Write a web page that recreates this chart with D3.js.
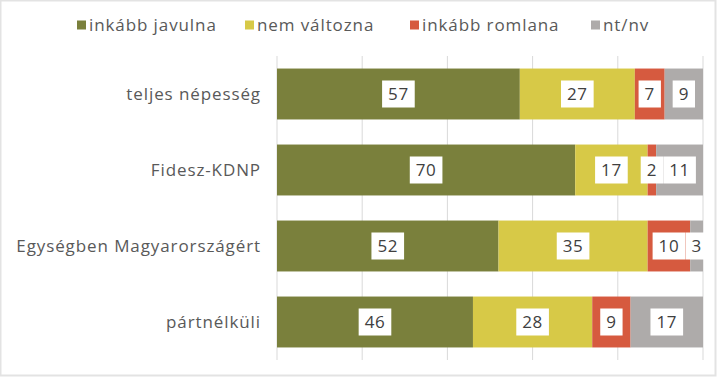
<!DOCTYPE html>
<html>
<head>
<meta charset="utf-8">
<script src="https://cdn.jsdelivr.net/npm/d3@7"></script>
<style>
  body { margin: 0; background: #fff; }
  text { font-family: "Open Sans", sans-serif; }
</style>
</head>
<body>
<div id="chart"></div>
<script>
// categories (top to bottom) and series
const categories = ["teljes népesség", "Fidesz-KDNP", "Egységben Magyarországért", "pártnélküli"];
const seriesNames = ["inkább javulna", "nem változna", "inkább romlana", "nt/nv"];
const javulna = [57, 70, 52, 46];
const valtozna = [27, 17, 35, 28];
const romlana = [7, 2, 10, 9];
const ntnv = [9, 11, 3, 17];
const xTicks = [0, 20, 40, 60, 80, 100];
const colors = ["#7a803c", "#d7c947", "#d65a3f", "#aeabaa"];

const width = 720, height = 378;
const margin = {top: 56, right: 17, bottom: 18, left: 277};

const svg = d3.select("#chart").append("svg")
  .attr("width", width)
  .attr("height", height);

// outer frame
svg.append("rect")
  .attr("x", 0.5).attr("y", 0.5)
  .attr("width", 715).attr("height", 375)
  .attr("fill", "#fff")
  .attr("stroke", "#e3e3e3")
  .attr("stroke-width", 2);

const rows = categories.map((c, i) => ({
  cat: c,
  vals: [javulna[i], valtozna[i], romlana[i], ntnv[i]]
}));

const x = d3.scaleLinear().domain([0, 100]).range([margin.left, width - margin.right]);
const y = d3.scaleBand().domain(categories).range([margin.top, height - margin.bottom]).paddingInner(0.33).paddingOuter(0.165);

// gridlines
svg.append("g")
  .selectAll("line")
  .data(xTicks)
  .join("line")
  .attr("x1", d => x(d)).attr("x2", d => x(d))
  .attr("y1", margin.top).attr("y2", height - margin.bottom)
  .attr("stroke", "#d9d9d9")
  .attr("stroke-width", 1);

// category labels
svg.append("g")
  .selectAll("text")
  .data(categories)
  .join("text")
  .attr("x", margin.left - 16)
  .attr("y", d => y(d) + y.bandwidth() / 2)
  .attr("dy", "0.35em")
  .attr("text-anchor", "end")
  .attr("fill", "#595959")
  .style("font-size", "17px")
  .style("letter-spacing", "0.9px")
  .text(d => d);

// stacked segments
const segs = [];
rows.forEach(r => {
  let acc = 0;
  r.vals.forEach((v, k) => {
    segs.push({cat: r.cat, k, v, x0: acc, x1: acc + v});
    acc += v;
  });
});

svg.append("g")
  .selectAll("rect")
  .data(segs)
  .join("rect")
  .attr("x", d => x(d.x0))
  .attr("y", d => y(d.cat))
  .attr("width", d => x(d.x1) - x(d.x0))
  .attr("height", y.bandwidth())
  .attr("fill", d => colors[d.k]);

// value labels in white boxes
const lab = svg.append("g")
  .selectAll("g")
  .data(segs)
  .join("g")
  .attr("transform", d => `translate(${(x(d.x0) + x(d.x1)) / 2},${y(d.cat) + y.bandwidth() / 2})`);

lab.append("text")
  .attr("text-anchor", "middle")
  .attr("dy", "0.36em")
  .attr("fill", "#404040")
  .style("font-size", "17px")
  .style("letter-spacing", "0.6px")
  .text(d => d.v)
  .each(function (d) { d.bbox = this.getBBox(); });

lab.insert("rect", "text")
  .attr("x", d => -d.bbox.width / 2 - 6)
  .attr("y", -13.5)
  .attr("width", d => d.bbox.width + 12)
  .attr("height", 27)
  .attr("fill", "#fff");

// legend
const legX = [77, 245, 410, 591];
const leg = svg.append("g")
  .selectAll("g")
  .data(seriesNames)
  .join("g")
  .attr("transform", (d, i) => `translate(${legX[i]},25)`);

leg.append("rect")
  .attr("x", 0).attr("y", -4.5)
  .attr("width", 9).attr("height", 9)
  .attr("fill", (d, i) => colors[i]);

leg.append("text")
  .attr("x", 12)
  .attr("dy", "0.35em")
  .attr("fill", "#595959")
  .style("font-size", "17px")
  .style("letter-spacing", "0.9px")
  .text(d => d);
</script>
</body>
</html>
